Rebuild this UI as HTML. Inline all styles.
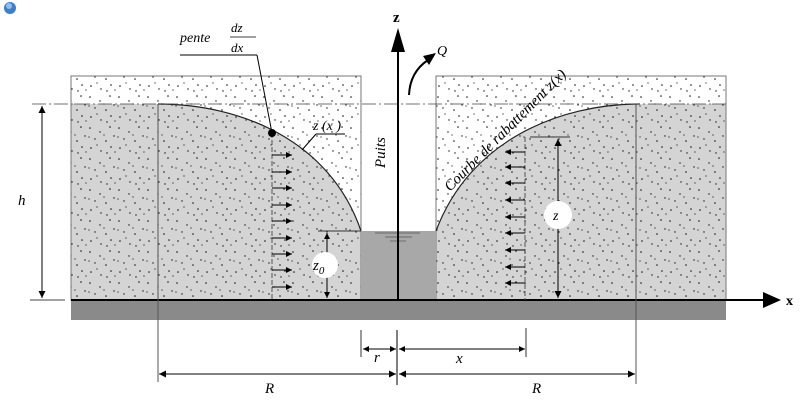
<!DOCTYPE html>
<html><head><meta charset="utf-8"><style>
html,body{margin:0;padding:0;background:#fff;width:800px;height:405px;overflow:hidden}
text{font-family:"Liberation Serif",serif;font-style:italic}
</style></head><body>
<svg width="800" height="405" viewBox="0 0 800 405" xmlns="http://www.w3.org/2000/svg">
<defs>
<pattern id="dots" width="29" height="31" patternUnits="userSpaceOnUse">
<g fill="#111">
<circle cx="3" cy="4" r="0.8"/><circle cx="13" cy="8" r="0.7"/><circle cx="23" cy="3" r="0.8"/>
<circle cx="8" cy="15" r="0.7"/><circle cx="19" cy="17" r="0.8"/><circle cx="27" cy="12" r="0.7"/>
<circle cx="4" cy="24" r="0.8"/><circle cx="14" cy="27" r="0.7"/><circle cx="24" cy="23" r="0.8"/>
<circle cx="20" cy="29" r="0.7"/><circle cx="10" cy="21" r="0.6"/><circle cx="28" cy="28" r="0.6"/>
<circle cx="17" cy="11" r="0.6"/><circle cx="2" cy="13" r="0.6"/>
</g></pattern>
<marker id="ah" viewBox="0 0 10 10" refX="10" refY="5" markerWidth="10" markerHeight="7" orient="auto-start-reverse" markerUnits="userSpaceOnUse"><path d="M0 0L10 5L0 10z" fill="#000"/></marker>
<marker id="as" viewBox="0 0 10 10" refX="10" refY="5" markerWidth="8" markerHeight="6" orient="auto" markerUnits="userSpaceOnUse"><path d="M0 0L10 5L0 10z" fill="#000"/></marker>
<marker id="as2" viewBox="0 0 10 10" refX="10" refY="5" markerWidth="8" markerHeight="6" orient="auto-start-reverse" markerUnits="userSpaceOnUse"><path d="M0 0L10 5L0 10z" fill="#000"/></marker>
</defs>
<circle cx="10" cy="8" r="6" fill="#3a7fd0"/><circle cx="9" cy="6" r="3" fill="#8fc0f0"/>
<rect x="71" y="76" width="290" height="224" fill="#fff" stroke="#777"/>
<rect x="436" y="76" width="290" height="224" fill="#fff" stroke="#777"/>
<path d="M71 104 L158 104 C240 104,330 140,361 231 L361 300 L71 300Z" fill="#d4d4d4"/>
<path d="M436 231 C470 140,560 104,640 104 L726 104 L726 300 L436 300Z" fill="#d4d4d4"/>
<rect x="71" y="76" width="290" height="224" fill="url(#dots)" stroke="#777"/>
<rect x="436" y="76" width="290" height="224" fill="url(#dots)" stroke="#777"/>
<path d="M158 104 C240 104,330 140,361 231" fill="none" stroke="#222" stroke-width="1.2"/>
<path d="M436 231 C470 140,560 104,640 104" fill="none" stroke="#222" stroke-width="1.2"/>
<rect x="361" y="231" width="75" height="69" fill="#a8a8a8"/>
<line x1="375" y1="233" x2="420" y2="233" stroke="#555" stroke-width="0.7"/>
<line x1="385" y1="237" x2="412" y2="237" stroke="#555" stroke-width="0.7"/>
<line x1="390" y1="241" x2="406" y2="241" stroke="#555" stroke-width="0.7"/>
<rect x="71" y="301" width="655" height="19" fill="#8a8a8a"/>
<line x1="71" y1="300" x2="770" y2="300" stroke="#000" stroke-width="2"/>
<path d="M763 292L781 300L763 308z"/>
<text x="786" y="305" style="font-style:normal;font-weight:bold" font-size="14">x</text>
<line x1="32" y1="104" x2="726" y2="104" stroke="#444" stroke-width="0.8" stroke-dasharray="14,3,2,3"/>
<line x1="398" y1="300" x2="398" y2="45" stroke="#000" stroke-width="2"/>
<path d="M391 52L398 28L405 52z"/>
<text x="393" y="22" style="font-style:normal;font-weight:bold" font-size="15">z</text>
<path d="M409 95 Q410 72 428 60" fill="none" stroke="#000" stroke-width="2"/>
<path d="M423 56L436 53L429 65z"/>
<text x="437" y="55" font-size="14">Q</text>
<text transform="translate(385,168) rotate(-90)" font-size="15">Puits</text>
<line x1="158" y1="104" x2="158" y2="382" stroke="#555"/>
<line x1="636" y1="104" x2="636" y2="384" stroke="#555"/>
<line x1="30" y1="300" x2="65" y2="300" stroke="#444"/>
<line x1="42" y1="106" x2="42" y2="298" stroke="#000" marker-start="url(#ah)" marker-end="url(#ah)"/>
<text x="18" y="205" font-size="15">h</text>
<line x1="272" y1="133" x2="272" y2="300" stroke="#555" stroke-dasharray="5,2"/>
<g stroke="#000" marker-end="url(#as)">
<line x1="272" y1="155" x2="292" y2="155"/><line x1="272" y1="172" x2="292" y2="172"/>
<line x1="272" y1="188" x2="292" y2="188"/><line x1="272" y1="205" x2="292" y2="205"/>
<line x1="272" y1="221" x2="292" y2="221"/><line x1="272" y1="238" x2="292" y2="238"/>
<line x1="272" y1="254" x2="292" y2="254"/><line x1="272" y1="270" x2="292" y2="270"/>
<line x1="272" y1="287" x2="292" y2="287"/>
</g>
<circle cx="272" cy="133" r="4"/>
<line x1="272" y1="133" x2="257" y2="55" stroke="#000"/>
<line x1="180" y1="55" x2="257" y2="55" stroke="#000"/>
<text x="180" y="42" font-size="14">pente</text>
<line x1="230" y1="37" x2="256" y2="37" stroke="#000" stroke-width="0.8"/>
<text x="231" y="32" font-size="13">dz</text>
<text x="231" y="52" font-size="13">dx</text>
<line x1="302" y1="150" x2="316" y2="134" stroke="#000"/>
<line x1="316" y1="134" x2="345" y2="134" stroke="#000"/>
<text x="313" y="130" font-size="14">z (x )</text>
<line x1="318" y1="231" x2="361" y2="231" stroke="#333"/>
<line x1="327" y1="233" x2="327" y2="298" stroke="#000" marker-start="url(#as2)" marker-end="url(#as2)"/>
<circle cx="325" cy="265" r="13" fill="#fff"/>
<text x="313" y="270" font-size="15">z<tspan font-size="11" dy="4">0</tspan></text>
<line x1="525" y1="137" x2="525" y2="300" stroke="#555" stroke-dasharray="5,2"/>
<g stroke="#000" marker-end="url(#as)">
<line x1="525" y1="152" x2="505" y2="152"/><line x1="525" y1="167" x2="505" y2="167"/>
<line x1="525" y1="183" x2="505" y2="183"/><line x1="525" y1="200" x2="505" y2="200"/>
<line x1="525" y1="217" x2="505" y2="217"/><line x1="525" y1="233" x2="505" y2="233"/>
<line x1="525" y1="250" x2="505" y2="250"/><line x1="525" y1="267" x2="505" y2="267"/>
<line x1="525" y1="283" x2="505" y2="283"/>
</g>
<line x1="530" y1="137" x2="570" y2="137" stroke="#333"/>
<line x1="558" y1="139" x2="558" y2="298" stroke="#000" marker-start="url(#ah)" marker-end="url(#ah)"/>
<circle cx="558" cy="215" r="14" fill="#fff"/>
<text x="553" y="220" font-size="14">z</text>
<text transform="translate(450,192) rotate(-45)" font-size="15">Courbe de rabattement z(x)</text>
<line x1="361" y1="330" x2="361" y2="357" stroke="#333"/>
<line x1="526" y1="328" x2="526" y2="357" stroke="#333"/>
<line x1="397" y1="330" x2="397" y2="385" stroke="#000"/>
<line x1="363" y1="349" x2="396" y2="349" stroke="#000" marker-start="url(#as2)" marker-end="url(#as2)"/>
<line x1="399" y1="349" x2="525" y2="349" stroke="#000" marker-start="url(#as2)" marker-end="url(#as2)"/>
<line x1="159" y1="374" x2="396" y2="374" stroke="#000" marker-start="url(#ah)" marker-end="url(#ah)"/>
<line x1="399" y1="374" x2="635" y2="374" stroke="#000" marker-start="url(#ah)" marker-end="url(#ah)"/>
<text x="374" y="362" font-size="15">r</text>
<text x="456" y="363" font-size="15">x</text>
<text x="265" y="393" font-size="15">R</text>
<text x="532" y="393" font-size="15">R</text>
</svg>
</body></html>
